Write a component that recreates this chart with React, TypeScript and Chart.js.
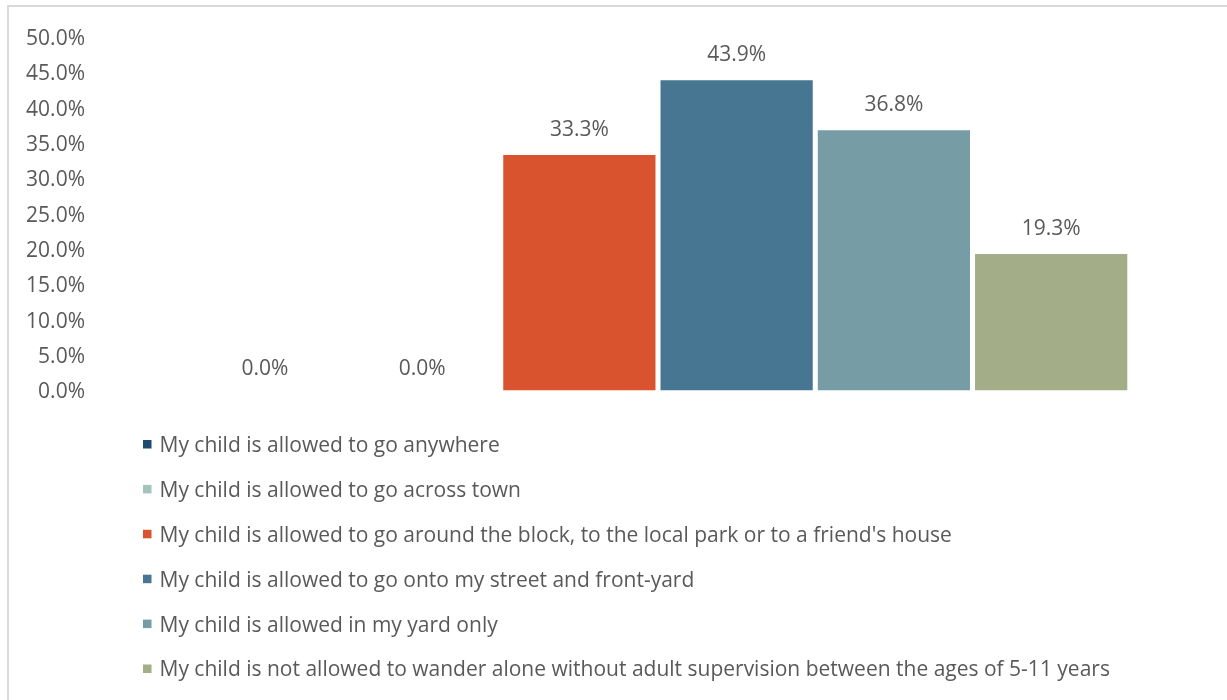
import React, { useEffect, useRef } from "react";
import { Chart, registerables } from "chart.js";

Chart.register(...registerables);

const categories: string[] = [""];
const seriesLabels: string[] = [
  "My child is allowed to go anywhere",
  "My child is allowed to go across town",
  "My child is allowed to go around the block, to the local park or to a friend's house",
  "My child is allowed to go onto my street and front-yard",
  "My child is allowed in my yard only",
  "My child is not allowed to wander alone without adult supervision between the ages of 5-11 years",
];
const seriesValues: number[] = [0.0, 0.0, 33.3, 43.9, 36.8, 19.3];
const seriesColors: string[] = ["#1c4a70", "#a2c4bc", "#d9532f", "#477692", "#769ca5", "#a3ad88"];
const yTicks: number[] = [0, 5, 10, 15, 20, 25, 30, 35, 40, 45, 50];

const FONT = "'Open Sans'";
const TEXT_COLOR = "#595959";

const dataLabelPlugin = {
  id: "dataLabels",
  afterDatasetsDraw(chart: any) {
    const ctx = chart.ctx;
    ctx.save();
    ctx.font = `21px ${FONT}`;
    ctx.fillStyle = TEXT_COLOR;
    ctx.textAlign = "center";
    ctx.textBaseline = "middle";
    chart.data.datasets.forEach((ds: any, i: number) => {
      const meta = chart.getDatasetMeta(i);
      meta.data.forEach((el: any, j: number) => {
        const v = ds.data[j] as number;
        const off = v === 0 ? 21.5 : 25.5;
        ctx.fillText(v.toFixed(1) + "%", el.x, el.y - off);
      });
    });
    ctx.restore();
  },
};

const legendPlugin = {
  id: "listLegend",
  afterDraw(chart: any) {
    const ctx = chart.ctx;
    ctx.save();
    ctx.font = `21px ${FONT}`;
    ctx.textAlign = "left";
    ctx.textBaseline = "middle";
    const x0 = 143;
    const y0 = 444.5;
    const step = 44.9;
    chart.data.datasets.forEach((ds: any, i: number) => {
      const y = y0 + i * step;
      ctx.fillStyle = ds.backgroundColor;
      ctx.fillRect(x0, y - 4.5, 8.5, 8.5);
      ctx.fillStyle = TEXT_COLOR;
      ctx.fillText(ds.label, 159.5, y + 1.5);
    });
    ctx.restore();
  },
};

export default function App() {
  const canvasRef = useRef<HTMLCanvasElement | null>(null);

  useEffect(() => {
    if (!canvasRef.current) return;
    const chart = new Chart(canvasRef.current, {
      type: "bar",
      data: {
        labels: categories,
        datasets: seriesLabels.map((label, i) => ({
          label,
          data: [seriesValues[i]],
          backgroundColor: seriesColors[i],
          borderWidth: 0,
          categoryPercentage: 0.838,
          barPercentage: 0.968,
        })),
      },
      options: {
        animation: false,
        responsive: false,
        maintainAspectRatio: false,
        layout: { padding: { left: 8, right: 6, top: 37, bottom: 309.5 } },
        plugins: {
          legend: { display: false },
          tooltip: { enabled: false },
        },
        scales: {
          x: { display: false },
          y: {
            min: 0,
            max: 50,
            afterFit: (scale: any) => {
              scale.width = 87;
            },
            afterBuildTicks: (scale: any) => {
              scale.ticks = yTicks.map((v) => ({ value: v }));
            },
            grid: { display: false, drawTicks: false },
            border: { display: false },
            ticks: {
              padding: 10,
              labelOffset: 2,
              color: TEXT_COLOR,
              font: { family: "Open Sans", size: 21 },
              callback: (v: any) => Number(v).toFixed(1) + "%",
            },
          },
        },
      },
      plugins: [dataLabelPlugin, legendPlugin],
    });
    return () => chart.destroy();
  }, []);

  return (
    <div
      style={{
        position: "fixed",
        left: 0,
        top: 0,
        width: 1227,
        height: 700,
        overflow: "hidden",
        background: "#ffffff",
      }}
    >
      <canvas ref={canvasRef} width={1227} height={700} style={{ position: "absolute", left: 0, top: 0 }} />
      <div
        style={{
          position: "absolute",
          left: 7,
          top: 5,
          width: 1260,
          height: 740,
          border: "2px solid #d9d9d9",
          pointerEvents: "none",
        }}
      />
    </div>
  );
}
